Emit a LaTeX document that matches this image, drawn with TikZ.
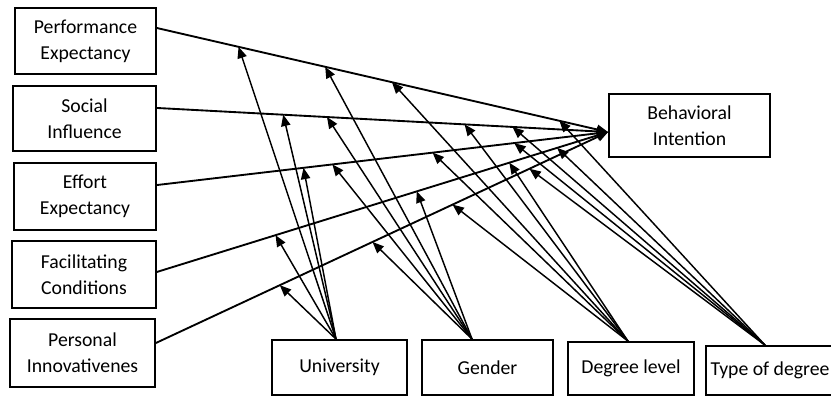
\documentclass[tikz,border=0pt]{standalone}
\usepackage{fontspec}
\setmainfont{Carlito}
\usetikzlibrary{arrows.meta,calc}
\begin{document}
\begin{tikzpicture}[x=0.75pt,y=-0.75pt,
  box/.style={draw, line width=1.3pt, align=center, inner sep=0pt,
    font=\fontsize{14.8}{19.5}\selectfont},
  main/.style={line width=1.4pt, -{Triangle[length=8.5pt,width=7pt]}},
  mod/.style={line width=1.1pt, -{Triangle[length=8.5pt,width=7pt]}}]
\useasboundingbox (0,0) rectangle (831,397);
\clip (0,0) rectangle (831,397);

% predictor boxes
\node[box, minimum width=105.75pt, minimum height=49.5pt] (pe) at (85.5,41) {Performance\\Expectancy};
\node[box, minimum width=107.25pt, minimum height=48.75pt] (si) at (84.5,118.5) {Social\\Influence};
\node[box, minimum width=106.5pt, minimum height=50.25pt] (ee) at (85,196.5) {Effort\\Expectancy};
\node[box, minimum width=108pt, minimum height=50.25pt] (fc) at (84,274.5) {Facilitating\\Conditions};
\node[box, minimum width=108.75pt, minimum height=51pt] (pi) at (82.5,353) {Personal\\Innovativenes};
% outcome
\node[box, minimum width=120.75pt, minimum height=47.25pt] (bi) at (689.5,125.5) {Behavioral\\Intention};
% moderators
\node[box, minimum width=101.25pt, minimum height=41.25pt] (u) at (339.5,367.5) {University};
\node[box, minimum width=98.25pt, minimum height=41.25pt] (g) at (487.5,367.5) {Gender};
\node[box, minimum width=94.5pt, minimum height=39.75pt] (d) at (631,368.5) {Degree level};
\node[box, minimum width=96pt, minimum height=36.75pt] (t) at (770,370.5) {Type of degree};

% start / end points of main paths
\coordinate (pe-s) at ([yshift=9.75pt]pe.east);
\coordinate (si-s) at ([yshift=7.9pt]si.east);
\coordinate (ee-s) at ([yshift=8.6pt]ee.east);
\coordinate (fc-s) at ([yshift=1.9pt]fc.east);
\coordinate (pi-s) at ([yshift=7.5pt]pi.east);
\coordinate (bi-e) at ([yshift=-4.9pt]bi.west);

\draw[main] (pe-s) -- (bi-e);
\draw[main] (si-s) -- (bi-e);
\draw[main] (ee-s) -- (bi-e);
\draw[main] (fc-s) -- (bi-e);
\draw[main] (pi-s) -- (bi-e);

% moderator sources
\coordinate (u-o) at ([xshift=-2.6pt]u.north);
\coordinate (g-o) at ([xshift=-11.6pt]g.north);
\coordinate (d-o) at ([xshift=-2.25pt]d.north);
\coordinate (t-o) at ([xshift=-3.75pt]t.north);

% targets on the main paths
\coordinate (pe-u) at ($(pe-s)!0.181!(bi-e)$);
\coordinate (pe-g) at ($(pe-s)!0.373!(bi-e)$);
\coordinate (pe-d) at ($(pe-s)!0.521!(bi-e)$);
\coordinate (pe-t) at ($(pe-s)!0.892!(bi-e)$);
\coordinate (si-u) at ($(si-s)!0.280!(bi-e)$);
\coordinate (si-g) at ($(si-s)!0.377!(bi-e)$);
\coordinate (si-d) at ($(si-s)!0.682!(bi-e)$);
\coordinate (si-t) at ($(si-s)!0.788!(bi-e)$);
\coordinate (ee-u) at ($(ee-s)!0.325!(bi-e)$);
\coordinate (ee-g) at ($(ee-s)!0.389!(bi-e)$);
\coordinate (ee-d) at ($(ee-s)!0.611!(bi-e)$);
\coordinate (ee-t) at ($(ee-s)!0.792!(bi-e)$);
\coordinate (fc-u) at ($(fc-s)!0.263!(bi-e)$);
\coordinate (fc-g) at ($(fc-s)!0.576!(bi-e)$);
\coordinate (fc-d) at ($(fc-s)!0.781!(bi-e)$);
\coordinate (fc-t) at ($(fc-s)!0.887!(bi-e)$);
\coordinate (pi-u) at ($(pi-s)!0.274!(bi-e)$);
\coordinate (pi-g) at ($(pi-s)!0.479!(bi-e)$);
\coordinate (pi-d) at ($(pi-s)!0.656!(bi-e)$);
\coordinate (pi-t) at ($(pi-s)!0.826!(bi-e)$);

\foreach \m in {u,g,d,t}{
  \foreach \p in {pe,si,ee,fc,pi}{
    \draw[mod] (\m-o) -- (\p-\m);
  }
}
\end{tikzpicture}
\end{document}
